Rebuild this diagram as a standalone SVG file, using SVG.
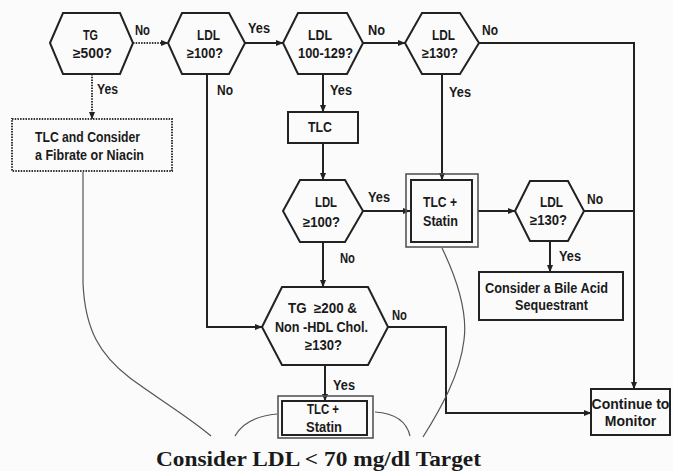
<svg xmlns="http://www.w3.org/2000/svg" width="673" height="471" viewBox="0 0 673 471">
<defs>
<marker id="arr" markerUnits="userSpaceOnUse" markerWidth="8" markerHeight="8" viewBox="0 0 8 8" refX="7.5" refY="4" orient="auto">
<path d="M0,0.8 L8,4 L0,7.2 Z" fill="#222"/>
</marker>
</defs>
<style>
.sh{fill:none;stroke:#222;stroke-width:2;stroke-linejoin:miter}
.dot{fill:none;stroke:#333;stroke-width:2;stroke-dasharray:1.5 1.2}
.ln{fill:none;stroke:#222;stroke-width:2}
.thin{fill:none;stroke:#555;stroke-width:1.2}
.outer{fill:none;stroke:#555;stroke-width:1.6}
.t{font-family:"Liberation Sans",Arial,sans-serif;font-weight:bold;font-size:14px;fill:#1a1a1a}
.ft{font-family:"Liberation Serif","Times New Roman",serif;font-weight:bold;font-size:22px;fill:#1a1a1a}
</style>
<rect x="0" y="0" width="673" height="471" fill="#fbfbfb"/>

<g id="connectors">
<path class="dot" d="M133,43 H168" marker-end="url(#arr)"/>
<path class="dot" d="M92,74 V119" marker-end="url(#arr)"/>
<path class="ln" d="M245,43 H283" marker-end="url(#arr)"/>
<path class="ln" d="M363,43 H405" marker-end="url(#arr)"/>
<path class="ln" d="M479,43 H634 V389" marker-end="url(#arr)"/>
<path class="ln" d="M442,74 V180" marker-end="url(#arr)"/>
<path class="ln" d="M207,74 V327 H262" marker-end="url(#arr)"/>
<path class="ln" d="M323,74 V112" marker-end="url(#arr)"/>
<path class="ln" d="M323,143 V180" marker-end="url(#arr)"/>
<path class="ln" d="M363,211 H410" marker-end="url(#arr)"/>
<path class="ln" d="M323,242 V287" marker-end="url(#arr)"/>
<path class="ln" d="M478,211 H515" marker-end="url(#arr)"/>
<path class="ln" d="M584,211 H634"/>
<path class="ln" d="M550,241 V272" marker-end="url(#arr)"/>
<path class="ln" d="M388,327 H446 V413 H591" marker-end="url(#arr)"/>
<path class="ln" d="M325,365 V401" marker-end="url(#arr)"/>
<text class="t" x="135" y="35" textLength="15" lengthAdjust="spacingAndGlyphs">No</text>
<text class="t" x="97" y="94" textLength="21" lengthAdjust="spacingAndGlyphs">Yes</text>
<text class="t" x="248" y="33" textLength="22" lengthAdjust="spacingAndGlyphs">Yes</text>
<text class="t" x="217" y="95" textLength="16" lengthAdjust="spacingAndGlyphs">No</text>
<text class="t" x="368" y="35" textLength="17" lengthAdjust="spacingAndGlyphs">No</text>
<text class="t" x="330" y="95" textLength="22" lengthAdjust="spacingAndGlyphs">Yes</text>
<text class="t" x="482" y="35" textLength="16" lengthAdjust="spacingAndGlyphs">No</text>
<text class="t" x="449" y="97" textLength="22" lengthAdjust="spacingAndGlyphs">Yes</text>
<text class="t" x="368" y="202" textLength="22" lengthAdjust="spacingAndGlyphs">Yes</text>
<text class="t" x="340" y="263" textLength="15" lengthAdjust="spacingAndGlyphs">No</text>
<text class="t" x="587" y="204" textLength="16" lengthAdjust="spacingAndGlyphs">No</text>
<text class="t" x="559" y="261" textLength="22" lengthAdjust="spacingAndGlyphs">Yes</text>
<text class="t" x="392" y="320" textLength="15" lengthAdjust="spacingAndGlyphs">No</text>
<text class="t" x="333" y="390" textLength="22" lengthAdjust="spacingAndGlyphs">Yes</text>
</g>

<g id="brackets">
<path class="thin" d="M83,172 L83,283 C85,330 100,355 130,378 C160,400 190,418 211,436"/>
<path class="thin" d="M235,436 Q245,417 277,414"/>
<path class="thin" d="M375,412 Q405,414 410,436"/>
<path class="thin" d="M442,248 C455,275 468,310 464,340 C460,375 440,410 423,437"/>
</g>

<g id="tg500">
<polygon class="sh" points="50,43 63,13 120,13 133,43 120,74 63,74"/>
<text class="t" x="83" y="40" textLength="15" lengthAdjust="spacingAndGlyphs">TG</text>
<text class="t" x="73" y="58" textLength="39" lengthAdjust="spacingAndGlyphs">≥500?</text>
</g>

<g id="tlcFibrate">
<rect class="dot" x="12" y="119" width="160" height="52"/>
<text class="t" x="35" y="142" textLength="105" lengthAdjust="spacingAndGlyphs">TLC and Consider</text>
<text class="t" x="35" y="160" textLength="109" lengthAdjust="spacingAndGlyphs">a Fibrate or Niacin</text>
</g>

<g id="ldl100a">
<polygon class="sh" points="168,43 182,13 229,13 245,43 229,74 182,74"/>
<text class="t" x="197" y="40" textLength="23" lengthAdjust="spacingAndGlyphs">LDL</text>
<text class="t" x="187" y="58" textLength="36" lengthAdjust="spacingAndGlyphs">≥100?</text>
</g>

<g id="ldl100129">
<polygon class="sh" points="283,43 298,13 347,13 363,43 347,74 298,74"/>
<text class="t" x="308" y="40" textLength="24" lengthAdjust="spacingAndGlyphs">LDL</text>
<text class="t" x="298" y="58" textLength="55" lengthAdjust="spacingAndGlyphs">100-129?</text>
</g>

<g id="ldl130a">
<polygon class="sh" points="405,43 422,13 460,13 479,43 460,74 422,74"/>
<text class="t" x="432" y="40" textLength="23" lengthAdjust="spacingAndGlyphs">LDL</text>
<text class="t" x="422" y="58" textLength="36" lengthAdjust="spacingAndGlyphs">≥130?</text>
</g>

<g id="tlc">
<rect class="sh" x="288" y="112" width="70" height="31"/>
<text class="t" x="308" y="132" textLength="24" lengthAdjust="spacingAndGlyphs">TLC</text>
</g>

<g id="ldl100b">
<polygon class="sh" points="283,211 300,180 345,180 363,211 345,242 300,242"/>
<text class="t" x="315" y="207" textLength="22" lengthAdjust="spacingAndGlyphs">LDL</text>
<text class="t" x="303" y="227" textLength="37" lengthAdjust="spacingAndGlyphs">≥100?</text>
</g>

<g id="tlcStatinA">
<rect class="outer" x="406" y="174" width="72" height="73"/>
<rect class="sh" x="411" y="180" width="61" height="62"/>
<text class="t" x="423" y="207" textLength="34" lengthAdjust="spacingAndGlyphs">TLC +</text>
<text class="t" x="423" y="226" textLength="35" lengthAdjust="spacingAndGlyphs">Statin</text>
</g>

<g id="ldl130b">
<polygon class="sh" points="515,211 530,181 568,181 584,211 568,241 530,241"/>
<text class="t" x="540" y="207" textLength="23" lengthAdjust="spacingAndGlyphs">LDL</text>
<text class="t" x="530" y="225" textLength="37" lengthAdjust="spacingAndGlyphs">≥130?</text>
</g>

<g id="bileAcid">
<rect class="sh" x="479" y="272" width="144" height="48"/>
<text class="t" x="485" y="293" textLength="123" lengthAdjust="spacingAndGlyphs">Consider a Bile Acid</text>
<text class="t" x="515" y="310" textLength="73" lengthAdjust="spacingAndGlyphs">Sequestrant</text>
</g>

<g id="tg200">
<polygon class="sh" points="262,327 282,287 368,287 388,327 368,365 282,365"/>
<text class="t" x="288" y="313" textLength="69" lengthAdjust="spacingAndGlyphs" xml:space="preserve">TG  ≥200 &amp;</text>
<text class="t" x="275" y="332" textLength="93" lengthAdjust="spacingAndGlyphs">Non -HDL Chol.</text>
<text class="t" x="305" y="350" textLength="37" lengthAdjust="spacingAndGlyphs">≥130?</text>
</g>

<g id="tlcStatinB">
<rect class="outer" x="278" y="396" width="95" height="42"/>
<rect class="sh" x="282" y="401" width="85" height="34"/>
<text class="t" x="307" y="414" textLength="32" lengthAdjust="spacingAndGlyphs">TLC +</text>
<text class="t" x="306" y="432" textLength="36" lengthAdjust="spacingAndGlyphs">Statin</text>
</g>

<g id="monitor">
<rect class="sh" x="591" y="389" width="79" height="46"/>
<text class="t" x="630.5" y="409" font-size="12" text-anchor="middle">Continue to</text>
<text class="t" x="630.5" y="426" font-size="12" text-anchor="middle">Monitor</text>
</g>

<g id="footer">
<text class="ft" x="156" y="466" textLength="325" lengthAdjust="spacingAndGlyphs">Consider LDL &lt; 70 mg/dl Target</text>
</g>
</svg>
